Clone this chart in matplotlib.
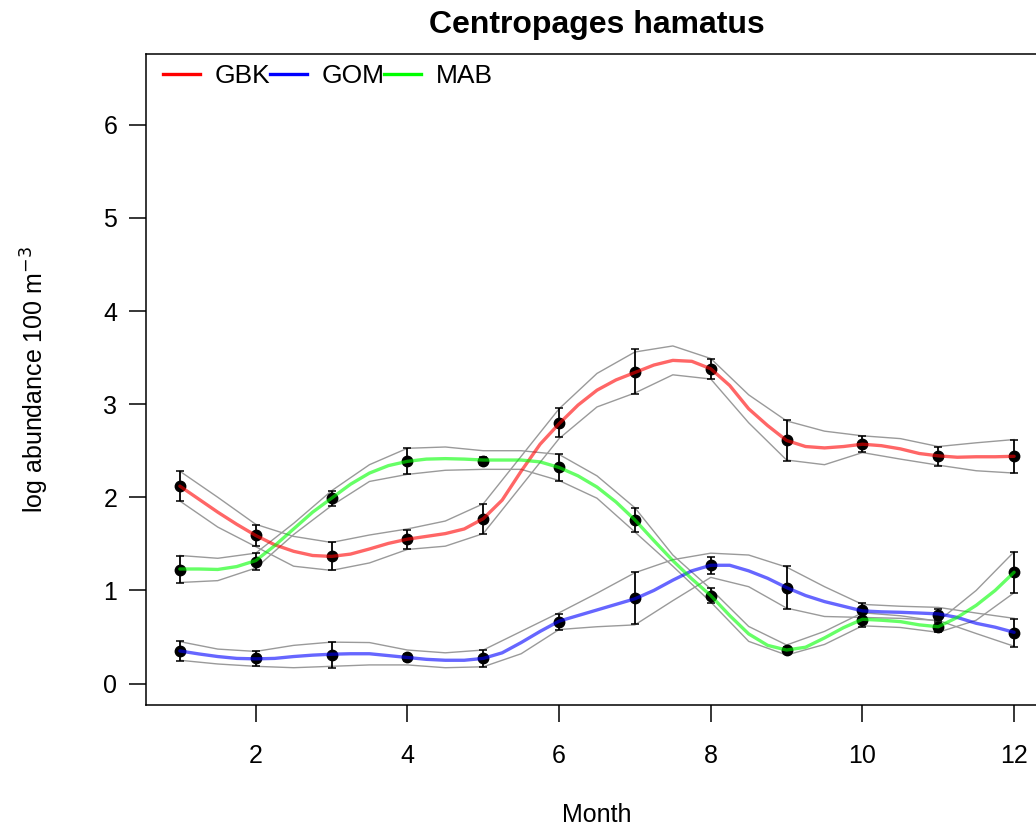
#!/usr/bin/env python3
"""Monthly log abundance of Centropages hamatus by region, with smooth fits and bands."""

import matplotlib

matplotlib.use("Agg")
import matplotlib.pyplot as plt
from matplotlib.lines import Line2D

# monthly means +/- error
months = [1, 2, 3, 4, 5, 6, 7, 8, 9, 10, 11, 12]
gbk_mean = [2.12, 1.59, 1.37, 1.55, 1.77, 2.80, 3.35, 3.38, 2.61, 2.57, 2.44, 2.44]
gbk_err = [0.16, 0.11, 0.15, 0.10, 0.16, 0.155, 0.24, 0.11, 0.22, 0.085, 0.10, 0.175]
gom_mean = [0.35, 0.27, 0.31, 0.28, 0.27, 0.665, 0.92, 1.27, 1.03, 0.79, 0.74, 0.54]
gom_err = [0.107, 0.08, 0.14, 0.04, 0.09, 0.085, 0.28, 0.09, 0.23, 0.08, 0.063, 0.15]
mab_mean = [1.22, 1.31, 1.99, 2.39, 2.39, 2.32, 1.76, 0.945, 0.365, 0.68, 0.61, 1.195]
mab_err = [0.145, 0.09, 0.08, 0.14, 0.04, 0.14, 0.13, 0.08, 0.03, 0.077, 0.055, 0.22]

# smooth fits, read at quarter-month steps
fit_x = [1, 1.25, 1.5, 1.75, 2, 2.25, 2.5, 2.75, 3, 3.25, 3.5, 3.75,
         4, 4.25, 4.5, 4.75, 5, 5.25, 5.5, 5.75, 6, 6.25, 6.5, 6.75,
         7, 7.25, 7.5, 7.75, 8, 8.25, 8.5, 8.75, 9, 9.25, 9.5, 9.75,
         10, 10.25, 10.5, 10.75, 11, 11.25, 11.5, 11.75, 12]
gbk_fit = [2.12, 1.98, 1.84, 1.71, 1.59, 1.49, 1.42, 1.375, 1.365, 1.39, 1.445, 1.505,
           1.55, 1.58, 1.61, 1.66, 1.77, 1.97, 2.28, 2.57, 2.79, 2.99, 3.15, 3.26,
           3.34, 3.42, 3.47, 3.46, 3.38, 3.20, 2.95, 2.77, 2.61, 2.545, 2.53, 2.545,
           2.57, 2.554, 2.52, 2.47, 2.445, 2.43, 2.435, 2.435, 2.44]
gom_fit = [0.35, 0.318, 0.29, 0.27, 0.265, 0.27, 0.29, 0.305, 0.315, 0.32, 0.32, 0.30,
           0.28, 0.26, 0.25, 0.25, 0.27, 0.33, 0.44, 0.56, 0.67, 0.73, 0.79, 0.85,
           0.91, 1.00, 1.11, 1.21, 1.27, 1.27, 1.21, 1.13, 1.03, 0.945, 0.88, 0.83,
           0.78, 0.77, 0.765, 0.757, 0.748, 0.71, 0.647, 0.605, 0.55]
mab_fit = [1.23, 1.23, 1.225, 1.256, 1.32, 1.48, 1.66, 1.84, 1.99, 2.14, 2.26, 2.34,
           2.386, 2.41, 2.415, 2.41, 2.40, 2.40, 2.40, 2.38, 2.32, 2.23, 2.11, 1.95,
           1.757, 1.535, 1.32, 1.124, 0.945, 0.73, 0.533, 0.41, 0.36, 0.39, 0.49, 0.60,
           0.69, 0.68, 0.665, 0.63, 0.61, 0.71, 0.84, 1.00, 1.195]

# band half-widths around the fit, read at half-month steps
band_x = [1, 1.5, 2, 2.5, 3, 3.5, 4, 4.5, 5, 5.5, 6, 6.5,
          7, 7.5, 8, 8.5, 9, 9.5, 10, 10.5, 11, 11.5, 12]
gbk_band = [0.16, 0.16, 0.12, 0.16, 0.15, 0.15, 0.11, 0.135, 0.16, 0.16, 0.16, 0.18,
            0.22, 0.155, 0.11, 0.15, 0.21, 0.18, 0.09, 0.11, 0.10, 0.15, 0.18]
gom_band = [0.10, 0.08, 0.08, 0.12, 0.13, 0.12, 0.08, 0.08, 0.09, 0.12, 0.09, 0.18,
            0.28, 0.22, 0.13, 0.17, 0.22, 0.16, 0.07, 0.065, 0.07, 0.11, 0.15]
mab_band = [0.145, 0.12, 0.08, 0.06, 0.08, 0.09, 0.14, 0.125, 0.10, 0.10, 0.14, 0.12,
            0.13, 0.06, 0.07, 0.08, 0.054, 0.07, 0.07, 0.063, 0.06, 0.16, 0.22]

regions = ["GBK", "GOM", "MAB"]
colors = ["#ff0000", "#0000ff", "#00ff00"]

plt.rcParams.update({"font.family": ["Liberation Sans", "DejaVu Sans"], "font.size": 18})

fig = plt.figure(figsize=(10.36, 8.33), dpi=100)
ax = fig.add_axes([0.1414, 0.1537, 0.8697, 0.7815])

series = [
    (gbk_mean, gbk_err, gbk_fit, gbk_band),
    (gom_mean, gom_err, gom_fit, gom_band),
    (mab_mean, mab_err, mab_fit, mab_band),
]

# confidence bands (fit sampled at the half-month points)
for mean, err, fit, band in series:
    centre = fit[::2]
    ax.plot(band_x, [f + b for f, b in zip(centre, band)], color="#9a9a9a", lw=1.0, zorder=1)
    ax.plot(band_x, [f - b for f, b in zip(centre, band)], color="#9a9a9a", lw=1.0, zorder=1)

# observed monthly means
for mean, err, fit, band in series:
    ax.errorbar(months, mean, yerr=err, fmt="o", color="black", ms=7.5,
                elinewidth=1.3, capsize=3, capthick=1.1, zorder=2)

# fitted curves on top
for (mean, err, fit, band), col in zip(series, colors):
    ax.plot(fit_x, fit, color=col, alpha=0.6, lw=2.4, zorder=3,
            solid_joinstyle="round", solid_capstyle="round")

ax.set_xlim(0.56, 12.44)
ax.set_ylim(-0.23, 6.76)
ax.set_xticks([2, 4, 6, 8, 10, 12])
ax.set_yticks([0, 1, 2, 3, 4, 5, 6])
ax.tick_params(direction="out", length=12, width=1.1, colors="black")
ax.tick_params(axis="x", pad=16)
ax.tick_params(axis="y", pad=9)
for sp in ax.spines.values():
    sp.set_linewidth(1.1)

ax.set_xlabel("Month")
ax.set_ylabel("log abundance 100 m$^{-3}$")
ax.xaxis.set_label_coords(0.5, -0.169)
ax.xaxis.label.set_va("center")
ax.yaxis.set_label_coords(-0.124, 0.5)
ax.yaxis.label.set_va("center")

fig.text(597 / 1036, 1 - 25 / 833, "Centropages hamatus", ha="center", va="center",
         fontsize=23, fontweight="bold")

handles = [Line2D([], [], color=c, lw=2.4) for c in colors]
ax.legend(handles, regions, loc="center left", bbox_to_anchor=(0.018, 0.966),
          ncol=3, frameon=False, handlelength=1.4, handletextpad=0.55,
          columnspacing=0.0, borderpad=0, borderaxespad=0, fontsize=19)

fig.savefig("out.png", dpi=100)
